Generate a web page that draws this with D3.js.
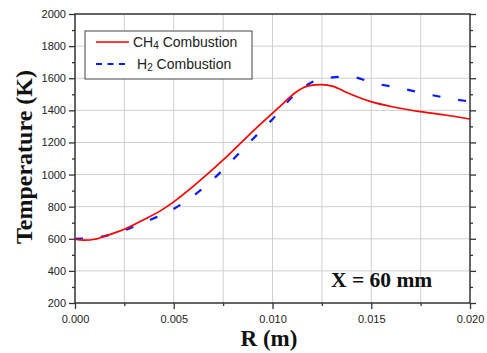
<!DOCTYPE html>
<html>
<head>
<meta charset="utf-8">
<script src="https://cdn.jsdelivr.net/npm/d3@7"></script>
<style>
  body { margin: 0; background: #fff; }
  .tick text { font-family: Arial, "Liberation Sans", sans-serif; font-size: 11px; fill: #222; }
</style>
</head>
<body>
<div id="chart"></div>
<script>
// radial temperature profiles at X = 60 mm
const ch4R = [0, 0.0005, 0.001, 0.0017, 0.0025, 0.0034, 0.0044, 0.005, 0.0067, 0.0075, 0.0089, 0.01, 0.01055, 0.01122, 0.01181, 0.01249, 0.01308, 0.01367, 0.01494, 0.0162, 0.01747, 0.01873, 0.02]
const ch4T = [597, 591, 597, 624, 659, 714, 780, 830, 1002, 1091, 1257, 1382, 1444, 1516, 1552, 1560, 1549, 1516, 1456, 1419, 1392, 1371, 1346]
const h2R = [0, 0.001, 0.0022, 0.0035, 0.0049, 0.0062, 0.0074, 0.0087, 0.01, 0.0113, 0.0126, 0.0139, 0.0152, 0.0165, 0.0178, 0.0191, 0.02]
const h2T = [600, 607, 640, 703, 779, 887, 1018, 1184, 1345, 1518, 1599, 1610, 1568, 1537, 1502, 1471, 1455]
const xTicks = [0, 0.005, 0.01, 0.015, 0.02]
const yTicks = [200, 400, 600, 800, 1000, 1200, 1400, 1600, 1800, 2000]

const width = 487
const height = 353
const margin = {top: 14, right: 17, bottom: 50, left: 75}
const iw = width - margin.left - margin.right
const ih = height - margin.top - margin.bottom

const svg = d3.select('#chart').append('svg')
  .attr('width', width)
  .attr('height', height)

const g = svg.append('g').attr('transform', `translate(${margin.left},${margin.top})`)

const x = d3.scaleLinear().domain([0, 0.02]).range([0, iw])
const y = d3.scaleLinear().domain([200, 2000]).range([ih, 0])

const minorX = d3.range(0.0025, 0.02, 0.005)
const minorY = d3.range(300, 2000, 200)

// grid: every major and minor x tick, major y ticks only
const gridX = xTicks.concat(minorX).filter(d => d > 0 && d < 0.02)
g.append('g').selectAll('line').data(gridX).enter().append('line')
  .attr('x1', d => x(d)).attr('x2', d => x(d)).attr('y1', 0).attr('y2', ih)
  .attr('stroke', '#cfcfcf').attr('stroke-width', 1)
g.append('g').selectAll('line').data(yTicks.slice(1, -1)).enter().append('line')
  .attr('y1', d => y(d)).attr('y2', d => y(d)).attr('x1', 0).attr('x2', iw)
  .attr('stroke', '#cfcfcf').attr('stroke-width', 1)

let styleAxis = sel => {
  sel.select('.domain').remove()
  sel.selectAll('.tick line').attr('stroke', '#333').attr('stroke-width', 1.3)
}

// x axis
g.append('g').attr('transform', `translate(0,${ih})`)
  .call(d3.axisBottom(x).tickValues(xTicks).tickFormat(d3.format('.3f')).tickSize(6).tickPadding(6))
  .call(styleAxis)
g.append('g').attr('transform', `translate(0,${ih})`)
  .call(d3.axisBottom(x).tickValues(minorX).tickFormat('').tickSize(3))
  .call(styleAxis)

// y axis left
g.append('g')
  .call(d3.axisLeft(y).tickValues(yTicks).tickFormat(d3.format('d')).tickSize(6).tickPadding(3))
  .call(styleAxis)
g.append('g')
  .call(d3.axisLeft(y).tickValues(minorY).tickFormat('').tickSize(3))
  .call(styleAxis)

// y axis right
g.append('g').attr('transform', `translate(${iw},0)`)
  .call(d3.axisRight(y).tickValues(yTicks).tickFormat('').tickSize(6))
  .call(styleAxis)
g.append('g').attr('transform', `translate(${iw},0)`)
  .call(d3.axisRight(y).tickValues(minorY).tickFormat('').tickSize(3))
  .call(styleAxis)

// frame
g.append('rect').attr('width', iw).attr('height', ih)
  .attr('fill', 'none').attr('stroke', '#333').attr('stroke-width', 1.5)

const line = d3.line().x(d => x(d[0])).y(d => y(d[1])).curve(d3.curveMonotoneX)

g.append('path').datum(d3.zip(h2R, h2T))
  .attr('d', line).attr('fill', 'none')
  .attr('stroke', '#0a1cff').attr('stroke-width', 2.2).attr('stroke-dasharray', '8,18')
g.append('path').datum(d3.zip(ch4R, ch4T))
  .attr('d', line).attr('fill', 'none')
  .attr('stroke', '#ff0000').attr('stroke-width', 1.7)

// legend
const lg = svg.append('g').attr('transform', 'translate(85,31)')
lg.append('rect').attr('width', 167).attr('height', 48)
  .attr('fill', '#fff').attr('stroke', '#444').attr('stroke-width', 1)
lg.append('line').attr('x1', 11).attr('x2', 44).attr('y1', 11).attr('y2', 11)
  .attr('stroke', '#ff0000').attr('stroke-width', 1.7)
lg.append('line').attr('x1', 11).attr('x2', 44).attr('y1', 33).attr('y2', 33)
  .attr('stroke', '#0a1cff').attr('stroke-width', 2.2).attr('stroke-dasharray', '6,5.5')

let legendText = (tx, ty, main, sub, rest) => {
  let t = lg.append('text').attr('x', tx).attr('y', ty)
    .attr('font-family', 'Arial, "Liberation Sans", sans-serif').attr('font-size', 14).attr('fill', '#222')
  t.append('tspan').text(main)
  t.append('tspan').text(sub).attr('font-size', 10).attr('dy', 2)
  t.append('tspan').text(rest).attr('dy', -2)
}
legendText(48, 16, 'CH', '4', ' Combustion')
legendText(52, 38, 'H', '2', ' Combustion')

// titles
const serif = '"Liberation Serif", "Times New Roman", serif'
svg.append('text').attr('x', 269).attr('y', 346)
  .attr('text-anchor', 'middle')
  .attr('font-family', serif)
  .attr('font-weight', 'bold').attr('font-size', 23).attr('fill', '#111')
  .text('R (m)')

svg.append('text')
  .attr('transform', 'translate(32,157) rotate(-90)')
  .attr('text-anchor', 'middle')
  .attr('font-family', serif)
  .attr('font-weight', 'bold').attr('font-size', 24).attr('fill', '#111')
  .text('Temperature (K)')

svg.append('text').attr('x', 331).attr('y', 287)
  .attr('font-family', serif)
  .attr('font-weight', 'bold').attr('font-size', 21.5).attr('fill', '#111')
  .text('X = 60 mm')
</script>
</body>
</html>
